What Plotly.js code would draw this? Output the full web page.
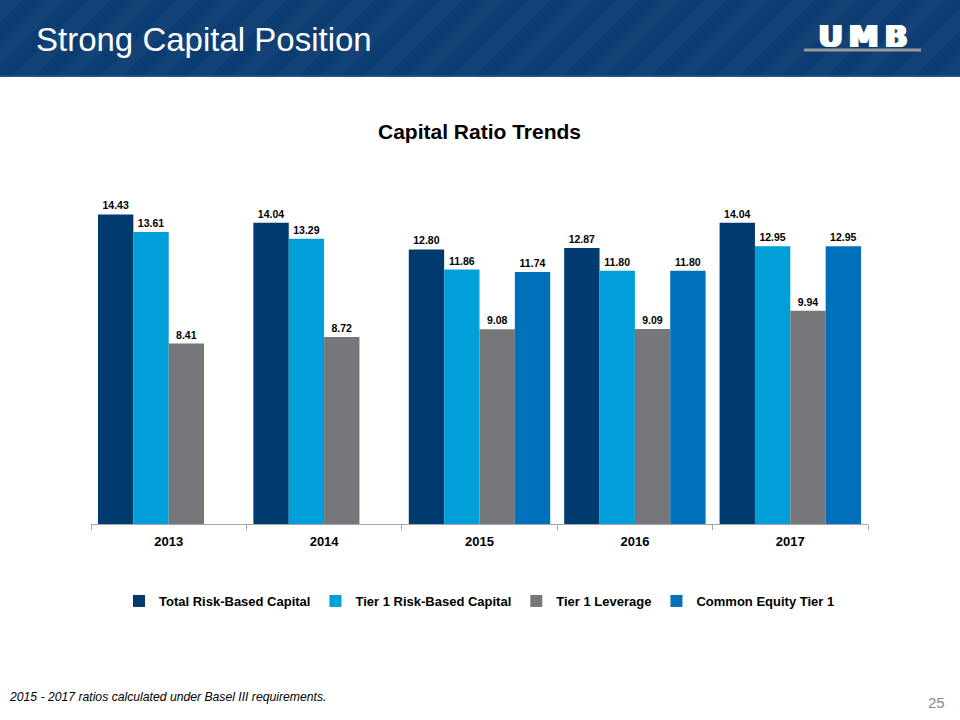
<!DOCTYPE html>
<html>
<head>
<meta charset="utf-8">
<script src="https://cdn.plot.ly/plotly-3.0.1.min.js"></script>
<style>html,body{margin:0;padding:0;background:#fff;}#chart{width:960px;height:720px;}</style>
</head>
<body>
<div id="chart"></div>
<script>
const years = ['2013', '2014', '2015', '2016', '2017'];
const totalRiskBased = [14.43, 14.04, 12.80, 12.87, 14.04];
const tier1RiskBased = [13.61, 13.29, 11.86, 11.80, 12.95];
const tier1Leverage = [8.41, 8.72, 9.08, 9.09, 9.94];
const commonEquityTier1 = [null, null, 11.74, 11.80, 12.95];
const seriesNames = ['Total Risk-Based Capital', 'Tier 1 Risk-Based Capital', 'Tier 1 Leverage', 'Common Equity Tier 1'];
const seriesColors = ['#003B6F', '#009FDA', '#76777A', '#0070BA'];

const W = 960, H = 720;
const M = {l: 91, r: 92, t: 170, b: 196};
const pw = W - M.l - M.r, ph = H - M.t - M.b;
const px = x => (x - M.l) / pw;
const py = y => (H - M.b - y) / ph;

const FONT = 'Liberation Sans, Arial, sans-serif';
const data = [totalRiskBased, tier1RiskBased, tier1Leverage, commonEquityTier1].map((vals, i) => ({
  type: 'bar',
  name: seriesNames[i],
  x: years,
  y: vals,
  marker: {color: seriesColors[i]},
  texttemplate: '%{y:.2f}',
  textposition: 'outside',
  textfont: {family: FONT, size: 10.5, color: '#000', weight: 'bold'},
  cliponaxis: false,
  hoverinfo: 'x+y+name'
}));

const shapes = [];
// header band
shapes.push({type: 'rect', xref: 'paper', yref: 'paper', x0: px(0), x1: px(960), y0: py(76), y1: py(0),
  fillcolor: '#0B3C72', line: {width: 0}, layer: 'below'});
// diagonal stripes
for (let s = -120; s < 1000; s += 44) {
  const path = `M ${px(s)} ${py(76)} L ${px(s + 22)} ${py(76)} L ${px(s + 98)} ${py(0)} L ${px(s + 76)} ${py(0)} Z`;
  shapes.push({type: 'path', xref: 'paper', yref: 'paper', path: path,
    fillcolor: 'rgba(255,255,255,0.035)', line: {width: 0}, layer: 'below'});
}
shapes.push({type: 'rect', xref: 'paper', yref: 'paper', x0: px(0), x1: px(960), y0: py(77), y1: py(75.5),
  fillcolor: '#2A5A8C', line: {width: 0}, layer: 'below'});
// UMB underline
shapes.push({type: 'rect', xref: 'paper', yref: 'paper', x0: px(804), x1: px(921), y0: py(51.5), y1: py(48.5),
  fillcolor: '#9A9A9A', line: {width: 0}});

const annotations = [
  {text: 'Strong Capital Position', xref: 'paper', yref: 'paper', x: px(34), y: py(40), xanchor: 'left', yanchor: 'middle',
    showarrow: false, font: {family: FONT, size: 33, color: '#FFFFFF'}},
  {text: '<b>U\u2009M\u2009B</b>', xref: 'paper', yref: 'paper', x: px(862), y: py(36), xanchor: 'center', yanchor: 'middle',
    showarrow: false, font: {family: 'DejaVu Sans, sans-serif', size: 30, color: '#FFFFFF',
      shadow: '1px 0 0 #fff, -1px 0 0 #fff, 2px 0 0 #fff'}},
  {text: '<i>2015 - 2017 ratios calculated under Basel III requirements.</i>', xref: 'paper', yref: 'paper',
    x: px(7), y: py(697), xanchor: 'left', yanchor: 'middle', showarrow: false,
    font: {family: FONT, size: 12.2, color: '#000'}},
  {text: '25', xref: 'paper', yref: 'paper', x: px(947), y: py(702), xanchor: 'right', yanchor: 'middle', showarrow: false,
    font: {family: FONT, size: 15, color: '#8A8A8A'}}
];

const layout = {
  width: W, height: H,
  margin: M,
  paper_bgcolor: '#FFFFFF', plot_bgcolor: 'rgba(0,0,0,0)',
  title: {text: '<b>Capital Ratio Trends</b>', x: 0.5, xanchor: 'center', xref: 'paper', y: 1 - 132 / H, yanchor: 'middle',
    font: {family: FONT, size: 21, color: '#000'}},
  barmode: 'group', bargap: 0.09, bargroupgap: 0,
  xaxis: {
    type: 'category', showline: true, linecolor: '#A6A6A6', linewidth: 1,
    ticks: 'outside', tickson: 'boundaries', ticklen: 5, tickcolor: '#A6A6A6',
    ticklabelstandoff: 5,
    tickfont: {family: FONT, size: 13, color: '#000', weight: 'bold'},
    showgrid: false, zeroline: false
  },
  yaxis: {range: [0, 16.5], visible: false, showgrid: false, zeroline: false},
  legend: {orientation: 'h', x: 0.5, xanchor: 'center', y: py(601), yanchor: 'middle',
    font: {family: FONT, size: 13, color: '#000', weight: 'bold'}, itemwidth: 30, tracegroupgap: 0},
  showlegend: true,
  shapes: shapes,
  annotations: annotations
};

Plotly.newPlot('chart', data, layout, {displayModeBar: false});
</script>
</body>
</html>
